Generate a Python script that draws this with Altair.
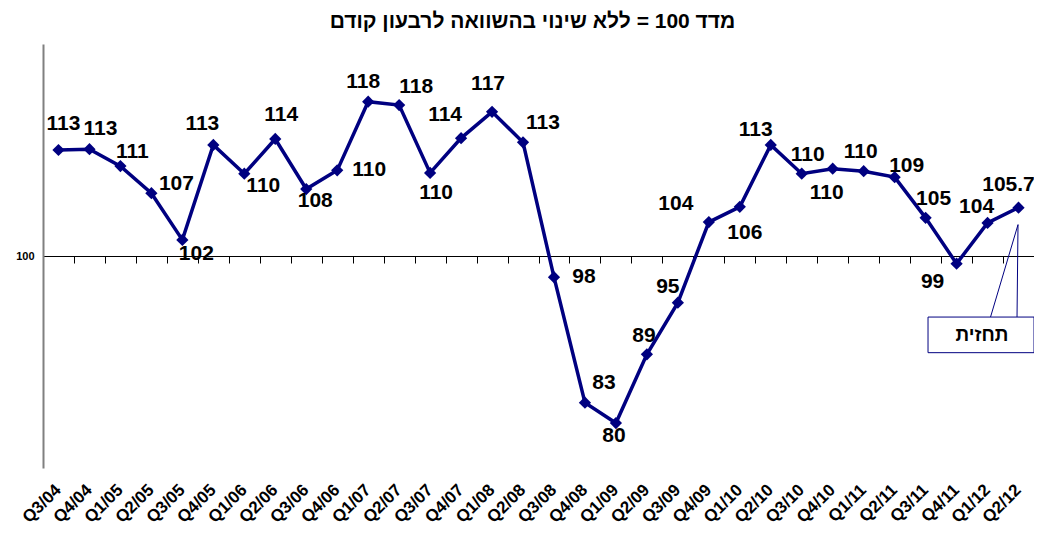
import altair as alt
import pandas as pd

categories = ["Q3/04", "Q4/04", "Q1/05", "Q2/05", "Q3/05", "Q4/05", "Q1/06", "Q2/06",
              "Q3/06", "Q4/06", "Q1/07", "Q2/07", "Q3/07", "Q4/07", "Q1/08", "Q2/08",
              "Q3/08", "Q4/08", "Q1/09", "Q2/09", "Q3/09", "Q4/09", "Q1/10", "Q2/10",
              "Q3/10", "Q4/10", "Q1/11", "Q2/11", "Q3/11", "Q4/11", "Q1/12", "Q2/12"]
values = [112.5, 112.6, 110.6, 107.4, 101.9, 113.1, 109.7, 113.8,
          107.9, 110.1, 118.2, 117.8, 109.8, 113.9, 117.0, 113.4,
          97.5, 82.7, 80.3, 88.4, 94.5, 104.0, 105.8, 113.1,
          109.7, 110.3, 110.0, 109.3, 104.5, 99.1, 103.9, 105.7]
labels = ["113", "113", "111", "107", "102", "113", "110", "114",
          "108", "110", "118", "118", "110", "114", "117", "113",
          "98", "83", "80", "89", "95", "104", "106", "113",
          "110", "110", "110", "109", "105", "99", "104", "105.7"]

title_text = "מדד 100 = ללא שינוי בהשוואה לרבעון קודם"
callout_text = "תחזית"
callout_cat = "Q2/12"
callout_box = [88.6, 92.8]
callout_tip = 103.7

# label placement (style): pixel offsets of each value label from its point
label_offsets = [(5, -26), (11, -20), (12, -14), (25, -9), (14, 14), (-11, -21), (19, 12), (6, -24),
                 (9, 12), (32, 0), (-5, -20), (17, -18), (6, 20), (-16, -23), (-4, -28), (20, -19),
                 (30, 0), (19, -20), (-2, 13), (-3, -18), (-10, -16), (-33, -18), (5, 26), (-15, -15),
                 (6, -19), (-6, 24), (-3, -19), (12, -11), (8, -19), (-24, 18), (-11, -16), (-10, -23)]

NAVY = "#000080"
FONT = "Liberation Sans"

df = pd.DataFrame({"q": categories, "v": values, "lbl": labels})
ann = pd.DataFrame({"q": [callout_cat], "y1": [callout_box[0]], "y2": [callout_box[1]],
                    "ym": [(callout_box[0] + callout_box[1]) / 2], "tip": [callout_tip],
                    "t": [callout_text]})

xscale = alt.Scale(type="band", domain=categories, paddingInner=0, paddingOuter=0)
yscale = alt.Scale(domain=[75, 125], nice=False, zero=False)

yaxis = alt.Axis(values=[100], title=None, grid=False, domainColor="#808080", domainWidth=2,
                 ticks=False, labelPadding=9, labelFontSize=11, labelFontWeight="bold",
                 labelFont=FONT, labelColor="black")

label_axis = alt.Axis(orient="bottom", title=None, domain=False, ticks=False, grid=False,
                      labelAngle=-45, labelAlign="right", labelBaseline="middle",
                      labelPadding=19, labelFontSize=17, labelFontWeight="bold",
                      labelFont=FONT, labelColor="black", labelOverlap=False)

mid_axis = alt.Axis(orient="bottom", offset=-212, title=None, labels=False, grid=False,
                    domainColor="black", domainWidth=1, ticks=True, tickBand="extent",
                    tickSize=7, tickColor="black", tickWidth=1)

base = alt.Chart(df)

line = base.mark_line(color=NAVY, strokeWidth=3.5).encode(
    x=alt.X("q:N", scale=xscale, axis=label_axis),
    y=alt.Y("v:Q", scale=yscale, axis=yaxis),
)

pts = base.mark_point(shape="diamond", filled=True, size=150, color=NAVY, opacity=1).encode(
    x=alt.X("q:N", scale=xscale, axis=mid_axis),
    y=alt.Y("v:Q", scale=yscale, axis=yaxis),
)

text_layers = []
for cat, (dx, dy) in zip(categories, label_offsets):
    text_layers.append(
        base.transform_filter(alt.datum.q == cat).mark_text(
            dx=dx, dy=dy, fontSize=21, fontWeight="bold", font=FONT, color="black",
            align="center", baseline="middle"
        ).encode(
            x=alt.X("q:N", scale=xscale, axis=None),
            y=alt.Y("v:Q", scale=yscale, axis=yaxis),
            text="lbl:N",
        )
    )

annb = alt.Chart(ann)
lead1 = annb.mark_rule(color=NAVY, strokeWidth=1, xOffset=-28, x2Offset=-0.5).encode(
    x=alt.X("q:N", scale=xscale, axis=None), x2="q:N",
    y=alt.Y("y2:Q", scale=yscale, axis=yaxis), y2="tip:Q")
lead2 = annb.mark_rule(color=NAVY, strokeWidth=1, xOffset=-1.5, x2Offset=-0.5).encode(
    x=alt.X("q:N", scale=xscale, axis=None), x2="q:N",
    y=alt.Y("y2:Q", scale=yscale, axis=yaxis), y2="tip:Q")
box = annb.mark_rect(width=106, xOffset=-37.5, fill="white", stroke=NAVY, strokeWidth=1).encode(
    x=alt.X("q:N", scale=xscale, axis=None),
    y=alt.Y("y1:Q", scale=yscale, axis=yaxis), y2="y2:Q")
boxtext = annb.mark_text(dx=-36.5, fontSize=19, fontWeight="bold", font=FONT, color="black",
                         align="center", baseline="middle").encode(
    x=alt.X("q:N", scale=xscale, axis=None),
    y=alt.Y("ym:Q", scale=yscale, axis=yaxis), text="t:N")

chart = alt.layer(line, pts, *text_layers, lead1, lead2, box, boxtext).resolve_axis(
    x="independent"
).properties(
    width=991, height=424,
    title=alt.TitleParams(title_text, fontSize=21, fontWeight="bold", font=FONT,
                          color="black", anchor="middle", offset=12, dx=-6),
    autosize=alt.AutoSizeParams(type="none"),
    padding={"left": 35, "top": 36, "right": 0, "bottom": 59},
).configure(background="white").configure_view(stroke=None)

chart.save("out.html", embed_options={"renderer": "svg", "actions": False})
